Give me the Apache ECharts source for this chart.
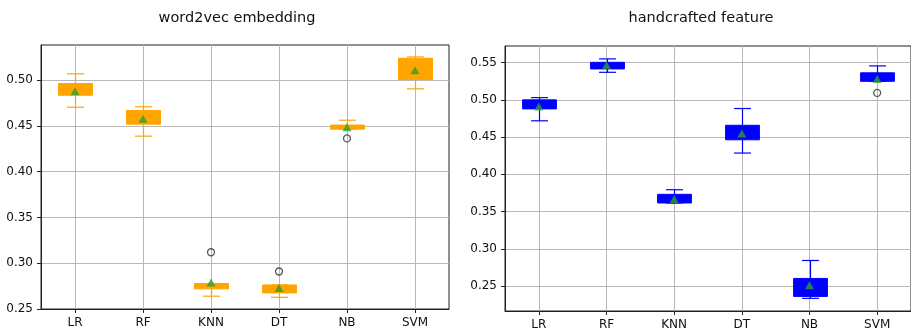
<!DOCTYPE html>
<html><head><meta charset="utf-8">
<script src="https://cdn.jsdelivr.net/npm/echarts@6/dist/echarts.min.js"></script>
<style>html,body{margin:0;padding:0;background:#fff}#c{width:911px;height:331px}</style>
</head><body><div id="c"></div>
<script>
const categories = ['LR', 'RF', 'KNN', 'DT', 'NB', 'SVM'];

// word2vec embedding (whisker low, Q1, Q3, whisker high, mean)
const w2vLow  = [0.4705, 0.4389, 0.2640, 0.2628, 0.4465, 0.4906];
const w2vQ1   = [0.4836, 0.4520, 0.2720, 0.2676, 0.4465, 0.5008];
const w2vQ3   = [0.4964, 0.4670, 0.2778, 0.2763, 0.4510, 0.5240];
const w2vHigh = [0.5070, 0.4710, 0.2778, 0.2763, 0.4563, 0.5255];
const w2vMean = [0.488, 0.458, 0.279, 0.273, 0.4487, 0.511];
const w2vOutlierCats = ['KNN', 'DT', 'NB'];
const w2vOutlierVals = [0.312, 0.291, 0.4364];

// handcrafted feature
const hcLow  = [0.4719, 0.5370, 0.3616, 0.4286, 0.2336, 0.5249];
const hcQ1   = [0.4879, 0.5415, 0.3616, 0.4464, 0.2362, 0.5249];
const hcQ3   = [0.5000, 0.5504, 0.3732, 0.4659, 0.2603, 0.5363];
const hcHigh = [0.5030, 0.5550, 0.3794, 0.4884, 0.2844, 0.5456];
const hcMean = [0.491, 0.5465, 0.367, 0.455, 0.2513, 0.528];
const hcOutlierCats = ['SVM'];
const hcOutlierVals = [0.5094];

const w2vTicks = [0.25, 0.30, 0.35, 0.40, 0.45, 0.50];
const hcTicks = [0.25, 0.30, 0.35, 0.40, 0.45, 0.50, 0.55];

const FONT = 'DejaVu Sans';

function boxRenderer(color) {
  return function (params, api) {
    const i = api.value(0);
    const pLow = api.coord([i, api.value(1)]);
    const pQ1 = api.coord([i, api.value(2)]);
    const pQ3 = api.coord([i, api.value(3)]);
    const pHigh = api.coord([i, api.value(4)]);
    const band = api.size([1, 0])[0];
    const bw = band * 0.5, cw = band * 0.25;
    const x = Math.round(pQ1[0]) + 0.5;
    const ls = { stroke: color, lineWidth: 1.2, fill: null };
    return {
      type: 'group',
      children: [
        { type: 'line', shape: { x1: x, y1: pQ1[1], x2: x, y2: pLow[1] }, style: ls },
        { type: 'line', shape: { x1: x, y1: pQ3[1], x2: x, y2: pHigh[1] }, style: ls },
        { type: 'line', shape: { x1: x - cw / 2, y1: pLow[1], x2: x + cw / 2, y2: pLow[1] }, style: ls },
        { type: 'line', shape: { x1: x - cw / 2, y1: pHigh[1], x2: x + cw / 2, y2: pHigh[1] }, style: ls },
        { type: 'rect', shape: { x: x - bw / 2, y: pQ3[1], width: bw, height: Math.max(pQ1[1] - pQ3[1], 1) },
          style: { fill: color, stroke: color, lineWidth: 1 } }
      ]
    };
  };
}

function xAxisCfg(gi) {
  return {
    type: 'category', gridIndex: gi, data: categories, boundaryGap: true,
    axisLine: { show: true, lineStyle: { color: '#222', width: 1 } },
    axisTick: { show: true, alignWithLabel: true, length: 4, lineStyle: { color: '#222' } },
    axisLabel: { color: '#111', fontFamily: FONT, fontSize: 12, margin: 8 },
    splitLine: { show: true, alignWithLabel: true, lineStyle: { color: '#b8b8b8', width: 1 } }
  };
}
function yAxisCfg(gi, min, max, ticks) {
  return {
    type: 'value', gridIndex: gi, min: min, max: max,
    axisLine: { show: true, lineStyle: { color: '#222', width: 1 } },
    axisTick: { show: true, length: 4, customValues: ticks, lineStyle: { color: '#222' } },
    axisLabel: { color: '#111', fontFamily: FONT, fontSize: 12, margin: 8, customValues: ticks,
      formatter: v => v.toFixed(2) },
    splitLine: { show: true, lineStyle: { color: '#b8b8b8', width: 1 } }
  };
}

function boxData(lo, q1, q3, hi) {
  return categories.map((c, i) => [i, lo[i], q1[i], q3[i], hi[i]]);
}

const option = {
  animation: false,
  backgroundColor: '#fff',
  grid: [
    { left: 41, top: 45, width: 408, height: 264, show: true, borderColor: '#222', borderWidth: 1, backgroundColor: 'transparent' },
    { left: 505, top: 46, width: 408, height: 266, show: true, borderColor: '#222', borderWidth: 1, backgroundColor: 'transparent' }
  ],
  graphic: [
    { type: 'text', x: 237, y: 18, style: { text: 'word2vec embedding', font: '14.5px "DejaVu Sans"', fill: '#111', textAlign: 'center', textVerticalAlign: 'middle' } },
    { type: 'text', x: 701, y: 18, style: { text: 'handcrafted feature', font: '14.5px "DejaVu Sans"', fill: '#111', textAlign: 'center', textVerticalAlign: 'middle' } }
  ],
  xAxis: [xAxisCfg(0), xAxisCfg(1)],
  yAxis: [
    yAxisCfg(0, 0.25, 0.5385, w2vTicks),
    yAxisCfg(1, 0.2166, 0.5723, hcTicks)
  ],
  series: [
    { type: 'custom', xAxisIndex: 0, yAxisIndex: 0, z: 2, renderItem: boxRenderer('#FFA500'),
      encode: { x: 0, y: [1, 2, 3, 4] }, data: boxData(w2vLow, w2vQ1, w2vQ3, w2vHigh) },
    { type: 'scatter', xAxisIndex: 0, yAxisIndex: 0, z: 4, symbol: 'triangle', symbolSize: [9, 8],
      itemStyle: { color: '#2ca02c' }, data: categories.map((c, i) => [c, w2vMean[i]]) },
    { type: 'scatter', xAxisIndex: 0, yAxisIndex: 0, z: 4, symbol: 'circle', symbolSize: 7,
      itemStyle: { color: 'rgba(0,0,0,0)', borderColor: '#333', borderWidth: 1.3 },
      data: w2vOutlierCats.map((c, i) => [c, w2vOutlierVals[i]]) },

    { type: 'custom', xAxisIndex: 1, yAxisIndex: 1, z: 2, renderItem: boxRenderer('#0000FF'),
      encode: { x: 0, y: [1, 2, 3, 4] }, data: boxData(hcLow, hcQ1, hcQ3, hcHigh) },
    { type: 'scatter', xAxisIndex: 1, yAxisIndex: 1, z: 4, symbol: 'triangle', symbolSize: [9, 8],
      itemStyle: { color: '#2ca02c' }, data: categories.map((c, i) => [c, hcMean[i]]) },
    { type: 'scatter', xAxisIndex: 1, yAxisIndex: 1, z: 4, symbol: 'circle', symbolSize: 7,
      itemStyle: { color: 'rgba(0,0,0,0)', borderColor: '#333', borderWidth: 1.3 },
      data: hcOutlierCats.map((c, i) => [c, hcOutlierVals[i]]) }
  ]
};

const chart = echarts.init(document.getElementById('c'), null, { renderer: 'canvas' });
chart.setOption(option);
</script>
</body></html>
